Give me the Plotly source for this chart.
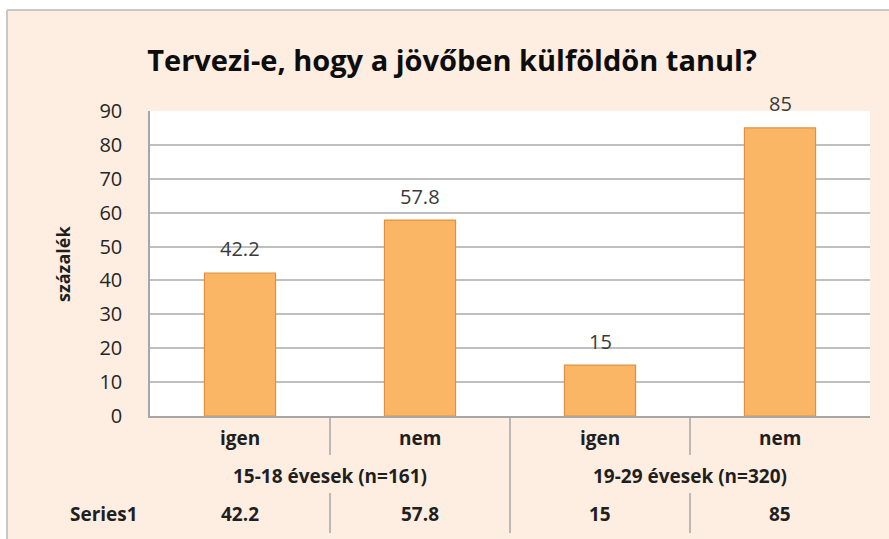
import plotly.graph_objects as go

categories = ["igen", "nem", "igen", "nem"]
groups = ["15-18 évesek (n=161)", "19-29 évesek (n=320)"]
values = [42.2, 57.8, 15, 85]
value_labels = ["42.2", "57.8", "15", "85"]
series_name = "Series1"
y_ticks = [0, 10, 20, 30, 40, 50, 60, 70, 80, 90]
title = "Tervezi-e, hogy a jövőben külföldön tanul?"
y_title = "százalék"

W, H = 889, 539
L, R, T, B = 150, 870, 111, 416
FONT = "Open Sans"
TXT = "#1F1F1F"

def px(x):
    return (x - L) / (R - L)

def py(y):
    return (B - y) / (B - T)

xs = list(range(len(values)))

fig = go.Figure()
fig.add_trace(go.Bar(
    x=xs, y=values, width=0.395,
    marker=dict(color="#FAB565", line=dict(color="#E0913F", width=1.2)),
    hoverinfo="skip", showlegend=False,
))

annotations = []
for i, v in enumerate(values):
    annotations.append(dict(x=i, y=v, xref="x", yref="y", text=value_labels[i],
                            showarrow=False, yanchor="middle", yshift=24,
                            font=dict(family=FONT, size=20, color="#3A3A3A")))
# table rows
for i, c in enumerate(categories):
    annotations.append(dict(x=i, y=py(438), xref="x", yref="paper", text="<b>%s</b>" % c,
                            showarrow=False, yanchor="middle",
                            font=dict(family=FONT, size=19, color=TXT)))
    annotations.append(dict(x=i, y=py(514), xref="x", yref="paper", text="<b>%s</b>" % value_labels[i],
                            showarrow=False, yanchor="middle",
                            font=dict(family=FONT, size=19, color=TXT)))
for g, name in enumerate(groups):
    annotations.append(dict(x=2 * g + 0.5, y=py(476), xref="x", yref="paper", text="<b>%s</b>" % name,
                            showarrow=False, yanchor="middle",
                            font=dict(family=FONT, size=19, color=TXT)))
annotations.append(dict(x=px(68), y=py(514), xref="paper", yref="paper", text="<b>%s</b>" % series_name,
                        showarrow=False, yanchor="middle",
                        font=dict(family=FONT, size=19, color=TXT)))
annotations.append(dict(x=px(63), y=py(264), xref="paper", yref="paper", text="<b>%s</b>" % y_title,
                        showarrow=False, textangle=-90, xanchor="center", yanchor="middle",
                        font=dict(family=FONT, size=18, color=TXT)))

shapes = []
# white strips above and left of chart area, border
shapes.append(dict(type="rect", xref="paper", yref="paper", x0=px(0), x1=px(W), y0=py(10), y1=py(0),
                   fillcolor="white", line=dict(width=0), layer="below"))
shapes.append(dict(type="rect", xref="paper", yref="paper", x0=px(0), x1=px(7), y0=py(H), y1=py(0),
                   fillcolor="white", line=dict(width=0), layer="below"))
shapes.append(dict(type="line", xref="paper", yref="paper", x0=px(7), x1=px(W), y0=py(10), y1=py(10),
                   line=dict(color="#C8C8C8", width=2)))
shapes.append(dict(type="line", xref="paper", yref="paper", x0=px(7), x1=px(7), y0=py(10), y1=py(H),
                   line=dict(color="#C8C8C8", width=2)))
# table separators
for xc in [0.5, 2.5]:
    shapes.append(dict(type="line", xref="x", yref="paper", x0=xc, x1=xc, y0=py(416), y1=py(455),
                       line=dict(color="#A6A6A6", width=1.5)))
    shapes.append(dict(type="line", xref="x", yref="paper", x0=xc, x1=xc, y0=py(493), y1=py(533),
                       line=dict(color="#A6A6A6", width=1.5)))
shapes.append(dict(type="line", xref="x", yref="paper", x0=1.5, x1=1.5, y0=py(416), y1=py(533),
                   line=dict(color="#A6A6A6", width=1.5)))

fig.update_layout(
    width=W, height=H,
    margin=dict(l=L, r=W - R, t=T, b=H - B, pad=0),
    paper_bgcolor="#FDEEE1", plot_bgcolor="white",
    title=dict(text="<b>%s</b>" % title, x=452 / W, xref="container", xanchor="center",
               y=1 - 61 / H, yanchor="middle", yref="container",
               font=dict(family=FONT, size=29, color="#0D0D0D")),
    xaxis=dict(range=[-0.5, 3.5], showticklabels=False, showgrid=False, zeroline=False,
               showline=True, linecolor="#A6A6A6", linewidth=1.5, ticks=""),
    yaxis=dict(range=[0, 90], tickvals=y_ticks, showgrid=True, gridcolor="#BFBFBF", gridwidth=1.5,
               zeroline=False, showline=True, linecolor="#A6A6A6", linewidth=1.5,
               ticks="", ticklabelstandoff=22,
               tickfont=dict(family=FONT, size=20, color="#262626")),
    annotations=annotations, shapes=shapes,
    font=dict(family=FONT),
)

fig.write_html("out.html", config={"displayModeBar": False},
               post_script="document.body.style.margin='0';")
